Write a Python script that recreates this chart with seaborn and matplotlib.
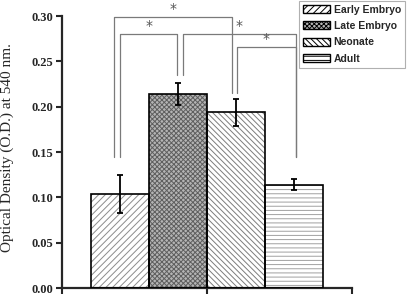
import numpy as np
import pandas as pd
import matplotlib
matplotlib.use('Agg')
import matplotlib.pyplot as plt
import seaborn as sns
from matplotlib.patches import Rectangle, Patch

# Dati
stages = ['Early Embryo', 'Late Embryo', 'Neonate', 'Adult']
od_mean = [0.104, 0.214, 0.194, 0.114]
od_err = [0.021, 0.012, 0.015, 0.006]

# Stile di ogni barra
face_colors = ['white', '#b4b4b4', 'white', 'white']
hatch_colors = ['#8c8c8c', '#5e5e5e', '#7c7c7c', '#a0a0a0']
hatches = ['/////', 'xxxxxxx', '\\\\\\\\\\\\', '----']

# Confronti significativi: (x sinistra, x destra, altezza, fondo gamba sx, fondo gamba dx)
bracket_left = [-0.10, 0.00, 1.09, 2.01]
bracket_right = [1.93, 0.99, 3.03, 3.03]
bracket_top = [0.299, 0.280, 0.280, 0.266]
bracket_left_end = [0.144, 0.144, 0.235, 0.215]
bracket_right_end = [0.215, 0.235, 0.144, 0.144]

data = pd.DataFrame({'stage': stages, 'od': od_mean})

sns.set_style('ticks')
plt.rcParams['font.family'] = ['Liberation Serif', 'DejaVu Serif']
plt.rcParams['hatch.linewidth'] = 0.7

fig = plt.figure(figsize=(4.07, 3.02), dpi=100)
ax = fig.add_axes([0.152, 0.046, 0.713, 0.901])

sns.barplot(data=data, x='stage', y='od', hue='stage', order=stages,
            palette=face_colors, width=1.0, errorbar=None, legend=False,
            linewidth=0, ax=ax)

# Tratteggio grigio e contorno nero separati
for bar, hc, h in zip(ax.patches, hatch_colors, hatches):
    bar.set_edgecolor(hc)
    bar.set_hatch(h)
    bar.set_linewidth(0)
    ax.add_patch(Rectangle((bar.get_x(), bar.get_y()), bar.get_width(), bar.get_height(),
                           fill=False, edgecolor='black', linewidth=1.2, zorder=3))

ax.errorbar(x=np.arange(len(stages)), y=od_mean, yerr=od_err, fmt='none',
            ecolor='black', elinewidth=1.3, capsize=2.2, capthick=1.3, zorder=4)

# Parentesi con asterischi
for xl, xr, top, el, er in zip(bracket_left, bracket_right, bracket_top,
                               bracket_left_end, bracket_right_end):
    ax.plot([xl, xl, xr, xr], [el, top, top, er], color='#7a7a7a', lw=0.9,
            clip_on=False, zorder=2)
    ax.annotate('*', xy=((xl + xr) / 2, top), xytext=(0, 0.5), textcoords='offset points',
                ha='center', va='bottom', fontsize=10, color='#555555',
                family='DejaVu Sans', annotation_clip=False)

ax.set_xlim(-1.0, 4.0)
ax.set_ylim(0, 0.30)
ax.set_xticks([-1.0, 1.5, 4.0])
ax.set_xticklabels([])
ax.set_yticks(np.arange(0, 0.31, 0.05))
ax.set_yticklabels([f'{v:.2f}' for v in np.arange(0, 0.31, 0.05)],
                   fontsize=9, fontweight='bold')
ax.set_xlabel('')
ax.set_ylabel('')
ax.tick_params(axis='both', direction='out', length=4, width=1.5, pad=2)
sns.despine(ax=ax)
for s in ['left', 'bottom']:
    ax.spines[s].set_linewidth(1.6)

fig.text(0.017, 0.51, 'Optical Density (O.D.) at 540 nm.', rotation=90,
         ha='center', va='center', fontsize=11)

# Legenda
handles = [Patch(facecolor=fc, edgecolor='black', hatch=h, linewidth=1.0)
           for fc, h in zip(face_colors, hatches)]
leg = fig.legend(handles, stages, loc='upper right', bbox_to_anchor=(0.995, 0.998),
                 borderaxespad=0,
                 prop={'family': 'Liberation Sans', 'size': 7.5, 'weight': 'bold'},
                 handlelength=2.6, handleheight=0.8, handletextpad=0.3,
                 labelspacing=0.6, borderpad=0.4, fancybox=False, framealpha=1)
leg.get_frame().set_edgecolor('#b0b0b0')
leg.get_frame().set_linewidth(0.8)

fig.savefig('out.png', dpi=100)
